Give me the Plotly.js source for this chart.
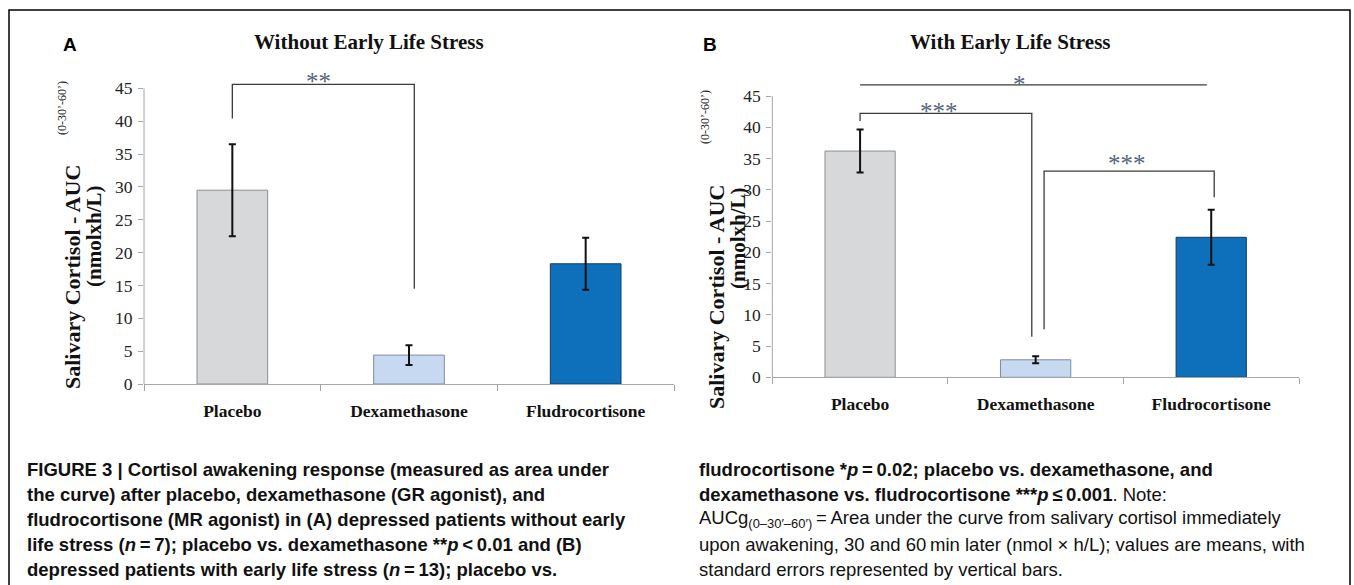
<!DOCTYPE html>
<html>
<head>
<meta charset="utf-8">
<script src="https://cdn.plot.ly/plotly-3.0.1.min.js"></script>
<style>html,body{margin:0;padding:0;background:#fff;}#chart{width:1354px;height:585px;}</style>
</head>
<body>
<div id="chart"></div>
<script>
// ---- data ----
const categories = ['Placebo', 'Dexamethasone', 'Fludrocortisone'];
const meanA = [29.5, 4.4, 18.3];
const seA = [7.0, 1.5, 3.95];
const meanB = [36.2, 2.8, 22.4];
const seB = [3.45, 0.55, 4.4];
const yTicks = [0, 5, 10, 15, 20, 25, 30, 35, 40, 45];
const barColors = ['#d7d8d9', '#c6d9f0', '#0e6fba'];
const barLines = ['#8f8f8f', '#7d8ca3', '#173c5e'];
// significance brackets (x in category units, y in nmol x h/L)
const brA_x = [0, 0, 1.03, 1.03];
const brA_y = [40.4, 45.6, 45.6, 14.5];
const brB1_x = [0, 1.975];
const brB1_y = [46.8, 46.8];
const brB2_x = [0, 0, 0.978, 0.978];
const brB2_y = [41.0, 42.24, 42.24, 6.5];
const brB3_x = [1.048, 1.048, 2.017, 2.017];
const brB3_y = [7.7, 33.0, 33.0, 28.8];
const starsA = [{x: 0.485, y: 47.0, t: '**'}];
const starsB = [{x: 0.906, y: 47.8, t: '*'}, {x: 0.45, y: 43.5, t: '***'}, {x: 1.519, y: 35.2, t: '***'}];

const captionLeft = [
  '<b>FIGURE 3 | Cortisol awakening response (measured as area under</b>',
  '<b>the curve) after placebo, dexamethasone (GR agonist), and</b>',
  '<b>fludrocortisone (MR agonist) in (A) depressed patients without early</b>',
  '<b>life stress (<i>n</i>\u2009=\u20097); placebo vs. dexamethasone **<i>p</i>\u2009&lt;\u20090.01 and (B)</b>',
  '<b>depressed patients with early life stress (<i>n</i>\u2009=\u200913); placebo vs.</b>'
];
const captionRight = [
  '<b>fludrocortisone *<i>p</i>\u2009=\u20090.02; placebo vs. dexamethasone, and</b>',
  '<b>dexamethasone vs. fludrocortisone ***<i>p</i>\u2009\u2264\u20090.001</b>. Note:',
  'AUCg<sub>(0\u201330\u2032\u201360\u2032)</sub>\u2009=\u2009Area under the curve from salivary cortisol immediately',
  'upon awakening, 30 and 60\u2009min later (nmol \u00d7 h/L); values are means, with',
  'standard errors represented by vertical bars.'
];

// ---- layout helpers (page pixels -> paper fractions) ----
const W = 1354, H = 585;
const px = x => x / W;
const py = y => 1 - y / H;
const YMAX = 49;
const serif = 'Liberation Serif, Times New Roman, serif';
const sans = 'Liberation Sans, Arial, sans-serif';

// panel geometry
const A = {x0: 144, x1: 674, zero: 384, ppu: 6.57};
const B = {x0: 772.3, x1: 1299, zero: 377.3, ppu: 6.25};

function bars(mean, se, xa, ya) {
  return {
    type: 'bar', x: [0, 1, 2], y: mean, width: 0.4, xaxis: xa, yaxis: ya,
    marker: {color: barColors, line: {color: barLines, width: 1}},
    error_y: {type: 'data', array: se, visible: true, color: '#111', thickness: 2, width: 3.5},
    hoverinfo: 'skip', showlegend: false
  };
}
function bracket(x, y, xa, ya) {
  return {type: 'scatter', mode: 'lines', x: x, y: y, xaxis: xa, yaxis: ya,
    line: {color: '#3a3a3a', width: 1.3}, hoverinfo: 'skip', showlegend: false};
}

const data = [
  bars(meanA, seA, 'x', 'y'),
  bars(meanB, seB, 'x2', 'y2'),
  bracket(brA_x, brA_y, 'x', 'y'),
  bracket(brB1_x, brB1_y, 'x2', 'y2'),
  bracket(brB2_x, brB2_y, 'x2', 'y2'),
  bracket(brB3_x, brB3_y, 'x2', 'y2')
];

function xaxisDef(P, anchor) {
  return {
    domain: [px(P.x0), px(P.x1)], range: [-0.5, 2.5], fixedrange: true, anchor: anchor,
    tickvals: [0, 1, 2], ticktext: categories.map(c => '<b>' + c + '</b>'), ticks: '',
    tickfont: {family: serif, size: 17.5, color: '#111'},
    ticklabelstandoff: 11,
    showline: true, linecolor: '#a6a6a6', linewidth: 1,
    showgrid: false, zeroline: false,
    minor: {tickmode: 'linear', tick0: -0.5, dtick: 1, ticks: 'outside', ticklen: 6, tickcolor: '#a6a6a6', tickwidth: 1, showgrid: false}
  };
}
function yaxisDef(P, anchor) {
  return {
    domain: [py(P.zero), py(P.zero - YMAX * P.ppu)], range: [0, YMAX], fixedrange: true,
    anchor: anchor,
    tickvals: yTicks, ticks: 'outside', ticklen: 5, tickcolor: '#a6a6a6', tickwidth: 1,
    tickfont: {family: serif, size: 17.5, color: '#222'},
    ticklabelstandoff: 2,
    showline: false, showgrid: false, zeroline: false
  };
}

const annotations = [];
function txt(x, y, text, font, extra) {
  annotations.push(Object.assign({xref: 'paper', yref: 'paper', x: px(x), y: py(y), text: text,
    showarrow: false, font: font, xanchor: 'center', yanchor: 'middle'}, extra || {}));
}
// panel letters and titles
txt(70, 45, '<b>A</b>', {family: sans, size: 19, color: '#000'});
txt(710, 45, '<b>B</b>', {family: sans, size: 19, color: '#000'});
txt(369, 42, '<b>Without Early Life Stress</b>', {family: serif, size: 21, color: '#111'});
txt(1010, 42, '<b>With Early Life Stress</b>', {family: serif, size: 21, color: '#111'});
// y-axis titles
const ylab = {family: serif, size: 22, color: '#111'};
const ysub = {family: serif, size: 12, color: '#222'};
txt(72, 277, '<b>Salivary Cortisol - AUC</b>', ylab, {textangle: -90});
txt(62, 108, '(0-30\u2019-60\u2019)', ysub, {textangle: -90});
txt(94, 236, '<b>(nmolxh/L)</b>', {family: serif, size: 21, color: '#111'}, {textangle: -90});
txt(716, 297, '<b>Salivary Cortisol - AUC</b>', ylab, {textangle: -90});
txt(705, 117, '(0-30\u2019-60\u2019)', ysub, {textangle: -90});
txt(738, 238, '<b>(nmolxh/L)</b>', {family: serif, size: 21, color: '#111'}, {textangle: -90});
// significance stars
const starFont = {family: serif, size: 25, color: '#56647c'};
starsA.forEach(s => annotations.push({xref: 'x', yref: 'y', x: s.x, y: s.y, text: s.t, showarrow: false, font: starFont, xanchor: 'center', yanchor: 'middle', yshift: -6}));
starsB.forEach(s => annotations.push({xref: 'x2', yref: 'y2', x: s.x, y: s.y, text: s.t, showarrow: false, font: starFont, xanchor: 'center', yanchor: 'middle', yshift: -6}));
// caption
const capFont = {family: sans, size: 18.5, color: '#111'};
captionLeft.forEach((t, i) => txt(25, 469 + 25 * i, t, capFont, {xanchor: 'left', align: 'left'}));
captionRight.forEach((t, i) => txt(697, 469 + 25 * i, t, capFont, {xanchor: 'left', align: 'left'}));

const shapes = [
  // y-axis lines (0 to 45 only)
  {type: 'line', xref: 'x domain', yref: 'y', x0: 0, x1: 0, y0: 0, y1: 45, line: {color: '#a6a6a6', width: 1}},
  {type: 'line', xref: 'x2 domain', yref: 'y2', x0: 0, x1: 0, y0: 0, y1: 45, line: {color: '#a6a6a6', width: 1}},
  // figure frame
  {type: 'rect', xref: 'paper', yref: 'paper', x0: px(9), x1: px(1350), y0: py(600), y1: py(10), line: {color: '#000', width: 1.5}}
];

const layout = {
  width: W, height: H, margin: {l: 0, r: 0, t: 0, b: 0, pad: 0},
  paper_bgcolor: '#fff', plot_bgcolor: 'rgba(0,0,0,0)',
  showlegend: false, bargap: 0.6,
  xaxis: xaxisDef(A, 'y'), yaxis: yaxisDef(A, 'x'),
  xaxis2: xaxisDef(B, 'y2'), yaxis2: yaxisDef(B, 'x2'),
  annotations: annotations, shapes: shapes
};

Plotly.newPlot('chart', data, layout, {staticPlot: true, displayModeBar: false});
</script>
</body>
</html>
